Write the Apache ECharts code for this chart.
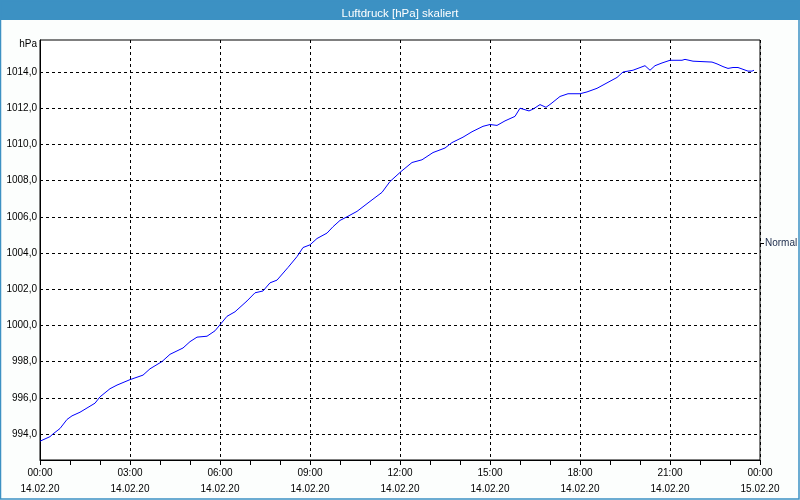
<!DOCTYPE html>
<html>
<head>
<meta charset="utf-8">
<script src="https://cdn.jsdelivr.net/npm/echarts@6/dist/echarts.min.js"></script>
<style>
html,body{margin:0;padding:0;background:#fcfefd;}
#c{width:800px;height:500px;}
</style>
</head>
<body>
<div id="c"></div>
<script>
var titleText = 'Luftdruck [hPa] skaliert';
var unitLabel = 'hPa';
var legendLabel = 'Normal';
var times = ['00:00','00:20','00:26','00:40','00:54','01:04','01:20','01:50','02:00','02:20','02:34','03:00','03:26','03:40','04:04','04:20','04:46','05:00','05:14','05:34','05:50','06:02','06:14','06:30','06:54','07:10','07:26','07:40','07:54','08:16','08:34','08:46','09:00','09:14','09:34','09:46','10:00','10:14','10:34','11:00','11:24','11:40','12:02','12:24','12:44','13:06','13:30','13:44','14:06','14:24','14:46','15:00','15:14','15:30','15:50','16:00','16:18','16:26','16:40','16:52','17:02','17:20','17:36','18:00','18:14','18:34','18:54','19:14','19:26','19:46','20:10','20:20','20:30','20:44','21:00','21:24','21:30','21:46','22:24','22:34','22:46','22:56','23:06','23:16','23:26','23:36','23:44','23:48'];
var pressure = [993.6,993.85,994.0,994.3,994.8,995.0,995.2,995.7,996.05,996.5,996.7,997.0,997.25,997.6,998.0,998.4,998.75,999.1,999.35,999.4,999.7,1000.1,1000.5,1000.75,1001.35,1001.8,1001.9,1002.35,1002.5,1003.2,1003.8,1004.3,1004.45,1004.8,1005.1,1005.45,1005.8,1006.0,1006.3,1006.85,1007.35,1007.95,1008.5,1009.0,1009.15,1009.55,1009.8,1010.1,1010.4,1010.7,1011.0,1011.1,1011.05,1011.3,1011.55,1012.0,1011.85,1011.95,1012.2,1012.05,1012.25,1012.65,1012.8,1012.8,1012.9,1013.1,1013.4,1013.7,1014.0,1014.1,1014.35,1014.1,1014.35,1014.5,1014.65,1014.65,1014.7,1014.6,1014.55,1014.45,1014.3,1014.2,1014.25,1014.25,1014.15,1014.05,1014.05,1014.1];
var yTicks = [994,996,998,1000,1002,1004,1006,1008,1010,1012,1014];
var xTickHours = [0,3,6,9,12,15,18,21,24];
var xTimeLabels = ['00:00','03:00','06:00','09:00','12:00','15:00','18:00','21:00','00:00'];
var xDateLabels = ['14.02.20','14.02.20','14.02.20','14.02.20','14.02.20','14.02.20','14.02.20','14.02.20','15.02.20'];

function toHours(t){var p=t.split(':');return +p[0] + (+p[1])/60;}
var seriesData = times.map(function(t,i){return [toHours(t), pressure[i]];});

var FONT = "'Liberation Sans', Arial, sans-serif";
var chart = echarts.init(document.getElementById('c'), null, {renderer:'canvas'});
chart.setOption({
  animation:false,
  backgroundColor:'#fcfefd',
  title:{
    text:titleText, left:'center', top:3, z:10,
    textStyle:{color:'#ffffff', fontSize:11.5, fontWeight:'normal', fontFamily:FONT}
  },
  graphic:[
    {type:'rect', z:0, shape:{x:0,y:0,width:800,height:20}, style:{fill:'#3c91c3'}},
    {type:'rect', z:0, shape:{x:0.5,y:0.5,width:798.5,height:498.5}, style:{fill:null, stroke:'#3c91c3', lineWidth:1.5}},
    {type:'text', z:10, x:37, y:44, style:{text:unitLabel, fill:'#000', font:'10px '+FONT, align:'right', verticalAlign:'middle'}},
    {type:'line', z:10, shape:{x1:760,y1:243.5,x2:764,y2:243.5}, style:{stroke:'#000', lineWidth:1}},
    {type:'text', z:10, x:765, y:243.5, style:{text:legendLabel, fill:'#1a2a4a', font:'10px '+FONT, align:'left', verticalAlign:'middle'}}
  ],
  grid:{left:40, right:40, top:40, bottom:40, show:true, backgroundColor:'#ffffff', borderColor:'#000000', borderWidth:1},
  xAxis:{
    type:'value', min:0, max:24, interval:3,
    axisLine:{show:true, lineStyle:{color:'#000', width:1}},
    axisTick:{show:true, length:5, lineStyle:{color:'#000'}},
    minorTick:{show:true, splitNumber:3, length:5, lineStyle:{color:'#000'}},
    splitLine:{show:true, lineStyle:{color:'#000', type:[3,3], width:1}},
    axisLabel:{
      margin:5.5, color:'#000', fontSize:10, fontFamily:FONT, lineHeight:16,
      formatter:function(v){var i=xTickHours.indexOf(Math.round(v)); return i<0?'':xTimeLabels[i]+'\n'+xDateLabels[i];}
    }
  },
  yAxis:{
    type:'value', min:992.56, max:1015.77,
    axisLine:{show:true, lineStyle:{color:'#000', width:1}},
    axisTick:{show:false, customValues:yTicks},
    splitLine:{show:true, lineStyle:{color:'#000', type:[3,3], width:1}},
    axisLabel:{
      customValues:yTicks, margin:3, color:'#000', fontSize:10, fontFamily:FONT,
      formatter:function(v){return v.toFixed(1).replace('.', ',');}
    }
  },
  series:[{
    type:'line', name:legendLabel, data:seriesData, showSymbol:false, symbol:'none',
    lineStyle:{color:'#0000ff', width:1}, itemStyle:{color:'#0000ff'}
  }]
});
</script>
</body>
</html>
